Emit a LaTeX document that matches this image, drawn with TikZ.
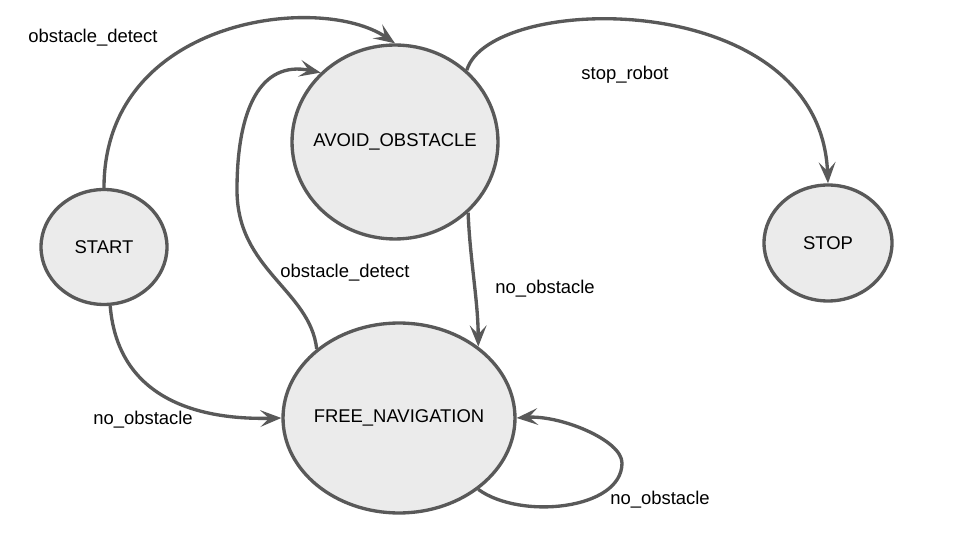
\documentclass[tikz,border=0pt]{standalone}
\usepackage{fontspec}
\setmainfont{Liberation Sans}
\usetikzlibrary{arrows.meta, shapes.geometric}
\definecolor{edgegray}{HTML}{595959}
\definecolor{statefill}{HTML}{EBEBEB}
\tikzset{>={Stealth[length=12pt, width=9.5pt, inset=5pt]}}
\tikzset{state/.style={ellipse, draw=edgegray, fill=statefill, line width=1.9pt, inner ysep=0pt, inner xsep=-8pt, font=\fontsize{10.5}{12}\selectfont},
  trans/.style={->, draw=edgegray, line width=1.9pt},
  lbl/.style={font=\fontsize{10.5}{12}\selectfont, inner sep=0pt}}

\begin{document}
\begin{tikzpicture}[x=0.02cm, y=-0.02cm]
\useasboundingbox (0,0) rectangle (960,540);
% states
\node[state, minimum width=2.52cm, minimum height=2.3cm] (start) at (104,247) {START};
\node[state, minimum width=4.12cm, minimum height=3.88cm] (avoid) at (395,142) {AVOID\_OBSTACLE};
\node[state, minimum width=2.56cm, minimum height=2.32cm] (stop) at (828,243) {STOP};
\node[state, minimum width=4.64cm, minimum height=3.8cm] (free) at (399,418) {FREE\_NAVIGATION};
% transitions
\draw[trans] (start.north) .. controls (104,18) and (320,-8) .. (avoid.north);
\draw[trans] (start.-84) .. controls (118,400) and (200,420) .. (free.west);
\draw[trans] (free.140) .. controls (310,290) and (237,270) .. (237,190)
  .. controls (237,110) and (260,60) .. (avoid.137);
\draw[trans] (avoid.-44) .. controls (470,260) and (478,300) .. (free.42);
\draw[trans] (avoid.45) .. controls (490,-8) and (820,-14) .. (stop.north);
\draw[trans] (free.-42) .. controls (520,520) and (622,510) .. (622,463)
  .. controls (622,440) and (560,415) .. (free.east);
% labels
\node[lbl] (l1) at (93,38) {obstacle\_detect};
\node[lbl] (l2) at (143,420) {no\_obstacle};
\node[lbl] (l3) at (345,273) {obstacle\_detect};
\node[lbl] (l4) at (545,289) {no\_obstacle};
\node[lbl] (l5) at (625,75) {stop\_robot};
\node[lbl] (l6) at (660,500) {no\_obstacle};
\end{tikzpicture}
\end{document}
